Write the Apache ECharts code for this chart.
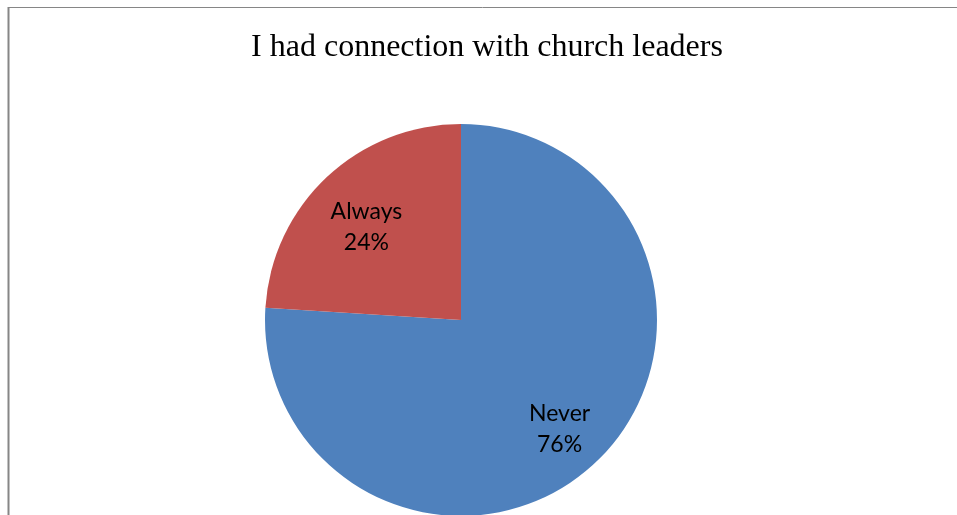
<!DOCTYPE html>
<html><head><meta charset="utf-8">
<script src="https://cdn.jsdelivr.net/npm/echarts@6/dist/echarts.min.js"></script>
<style>html,body{margin:0;padding:0;background:#fff}#c{width:957px;height:515px}</style>
</head><body><div id="c"></div>
<script>
const titleText = 'I had connection with church leaders';
const categories = ['Never', 'Always'];
const values = [76, 24];
const colors = ['#4F81BD', '#C0504D'];

const labelOffsets = { Never: [0, 4], Always: [4, 12] };
const data = categories.map((c, i) => ({ name: c, value: values[i], itemStyle: { color: colors[i] } }));
const labelData = categories.map((c, i) => ({ name: c, value: values[i], label: { offset: labelOffsets[c] } }));

const chart = echarts.init(document.getElementById('c'));
chart.setOption({
  animation: false,
  graphic: [
    { type: 'line', shape: { x1: 8, y1: 7.5, x2: 957, y2: 7.5 }, style: { stroke: '#868686', lineWidth: 1 } },
    { type: 'line', shape: { x1: 8.5, y1: 7, x2: 8.5, y2: 515 }, style: { stroke: '#868686', lineWidth: 2 } },
    { type: 'text', x: 487, y: 48, style: { text: titleText, font: '32px "Liberation Serif", serif', fill: '#000', textAlign: 'center', textVerticalAlign: 'middle' } }
  ],
  series: [
    {
      type: 'pie', center: [461, 320], radius: 196, startAngle: 90, clockwise: true,
      label: { show: false }, labelLine: { show: false }, silent: true,
      data: data
    },
    {
      type: 'pie', center: [461, 320], radius: [86, 196], startAngle: 90, clockwise: true,
      silent: true,
      itemStyle: { color: 'rgba(0,0,0,0)' },
      label: { show: true, position: 'inside', formatter: '{b}\n{d}%', color: '#000', fontFamily: 'Lato, "Open Sans", sans-serif', fontSize: 23, lineHeight: 31 },
      labelLine: { show: false },
      data: labelData
    }
  ]
});
</script></body></html>
